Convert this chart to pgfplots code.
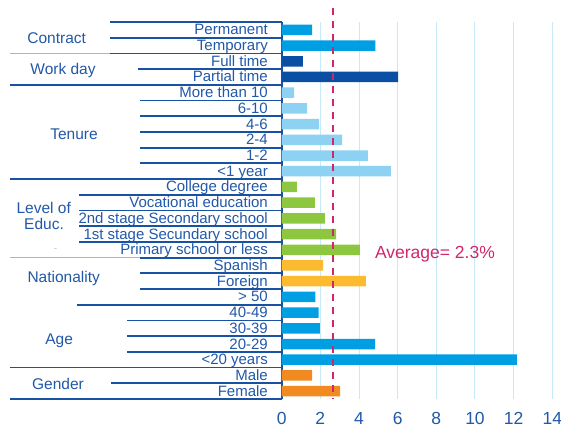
\documentclass[border=0pt]{standalone}
\usepackage{fontspec}
\setmainfont{Liberation Sans}
\usepackage{pgfplots}
\pgfplotsset{compat=1.18}

\definecolor{txtblue}{HTML}{2158A8}
\definecolor{lineblue}{HTML}{1A52A3}
\definecolor{thinblue}{HTML}{9DB8DD}
\definecolor{cyanbar}{HTML}{009FE3}
\definecolor{navybar}{HTML}{0A4FA3}
\definecolor{lightbar}{HTML}{8DD2F3}
\definecolor{greenbar}{HTML}{8DC63F}
\definecolor{yellowbar}{HTML}{FBBA30}
\definecolor{orangebar}{HTML}{F18A21}
\definecolor{avgred}{HTML}{D2266A}
\definecolor{gridblue}{HTML}{C8E9F8}

\begin{document}
\begin{tikzpicture}[x=1pt,y=1pt]
\useasboundingbox (0,0) rectangle (561,428);
\begin{axis}[
    at={(281.7pt,29pt)}, anchor=south west,
    scale only axis, width=270.6pt, height=377pt,
    xmin=0, xmax=14, ymin=-0.5, ymax=23.5, y dir=reverse,
    xbar, bar width=10.5pt, bar shift=0pt,
    xtick={0,2,...,14}, ytick={0,...,23},
    yticklabels={Permanent,Temporary,Full time,Partial time,More than 10,6-10,4-6,2-4,1-2,<1 year,
        College degree,Vocational education,2nd stage Secondary school,1st stage Secundary school,
        Primary school or less,Spanish,Foreign,> 50,40-49,30-39,20-29,<20 years,Male,Female},
    axis x line*=bottom, axis y line*=left,
    x axis line style={draw=none},
    y axis line style={draw=lineblue, line width=2.2pt},
    major tick length=0pt,
    xmajorgrids, grid style={gridblue, line width=1pt},
    /pgf/number format/assume math mode=true,
    xticklabel style={font=\fontsize{17.5}{20}\selectfont, text=txtblue, anchor=base, yshift=-25.5pt},
    yticklabel style={font=\fontsize{15}{17}\selectfont, text=txtblue, anchor=base east,
        inner sep=0pt, xshift=-13.7pt, yshift=-5pt},
    clip=false
]
% Contract
\addplot[fill=cyanbar, draw=none] coordinates {(1.58,0) (4.84,1)};
% Work day
\addplot[fill=navybar, draw=none] coordinates {(1.10,2) (6.02,3)};
% Tenure
\addplot[fill=lightbar, draw=none] coordinates {(0.64,4) (1.31,5) (1.93,6) (3.12,7) (4.46,8) (5.65,9)};
% Level of education
\addplot[fill=greenbar, draw=none] coordinates {(0.79,10) (1.72,11) (2.24,12) (2.81,13) (4.05,14)};
% Nationality
\addplot[fill=yellowbar, draw=none] coordinates {(2.14,15) (4.36,16)};
% Age
\addplot[fill=cyanbar, draw=none] coordinates {(1.74,17) (1.91,18) (1.98,19) (4.83,20) (12.17,21)};
% Gender
\addplot[fill=orangebar, draw=none] coordinates {(1.57,22) (3.02,23)};

\draw[avgred, line width=2pt, dash pattern=on 7pt off 6pt] (axis cs:2.64,-1.39) -- (axis cs:2.64,23.45);
\node[text=avgred, font=\fontsize{17.5}{20}\selectfont] at (axis cs:7.93,14.27) {Average= 2.3\%};
\end{axis}

% table lines on the left
\draw[thinblue, line width=0.8pt] (10,{406-15.708*2}) -- (110,{406-15.708*2});
\draw[thinblue, line width=0.8pt] (10,{406-15.708*15}) -- (140,{406-15.708*15});
\foreach \k/\x in {0/110,1/110,2/110,3/138,4/10,5/140,6/140,7/140,8/140,9/140,
    10/10,11/79,12/79,13/79,14/79,15/140,16/140,17/140,18/77,19/127,20/127,21/127,22/10,23/111,24/10}
    \draw[lineblue, line width=1.8pt] (\x,{406-15.708*\k}) -- (281.7,{406-15.708*\k});

% group labels
\begin{scope}[every node/.style={anchor=base, text=txtblue, font=\fontsize{15.5}{18}\selectfont, inner sep=0pt}]
\node at (56.7,{428-43.3}) {Contract};
\node at (63,{428-75}) {Work day};
\node at (74,{428-139.5}) {Tenure};
\node at (43.7,{428-214}) {Level of};
\node at (44,{428-230}) {Educ.};
\node at (63.7,{428-282.3}) {Nationality};
\node at (59.2,{428-344.3}) {Age};
\node at (58,{428-389.3}) {Gender};
\end{scope}
\node[text=thinblue, font=\small, inner sep=0pt] at (55.7,{428-250}) {-};
\end{tikzpicture}
\end{document}
